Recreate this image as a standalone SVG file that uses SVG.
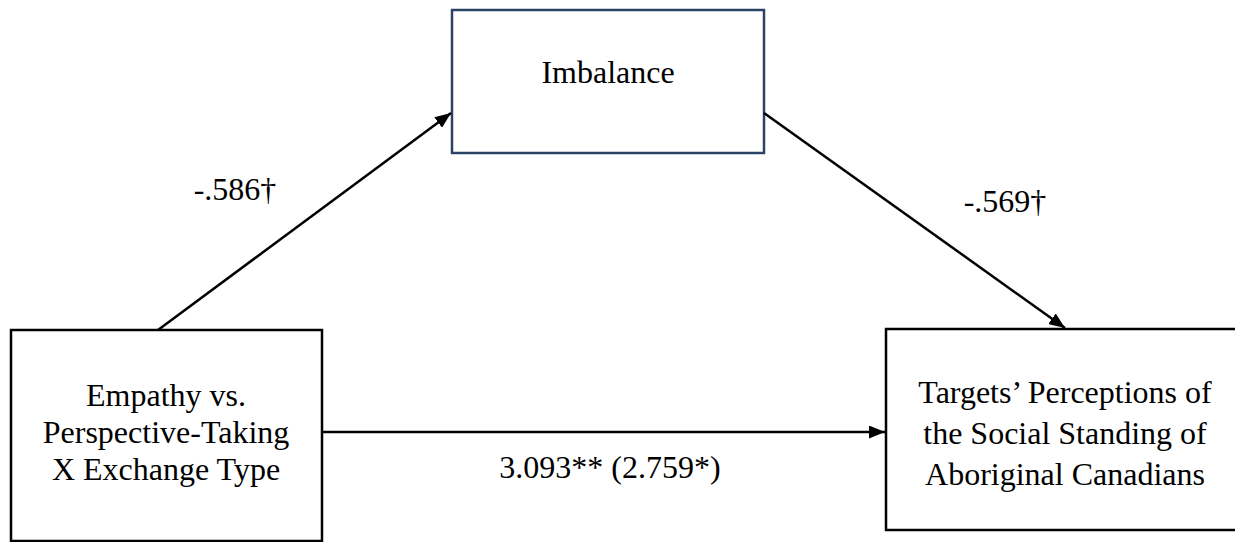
<svg xmlns="http://www.w3.org/2000/svg" width="1235" height="542" viewBox="0 0 1235 542">
<defs>
<style>
.box{fill:#ffffff;stroke:#000000;stroke-width:2.5}
.blue{stroke:#2B4466}
.t{font-family:"Liberation Serif","Times New Roman",serif;font-size:32px;fill:#000000;text-anchor:middle}
.edge{stroke:#000000;stroke-width:2.5;fill:none;marker-end:url(#arr)}
</style>
<marker id="arr" viewBox="0 0 16 13" refX="16" refY="6.5" markerWidth="16" markerHeight="13" markerUnits="userSpaceOnUse" orient="auto">
<path d="M0,0 L16,6.5 L0,13 Z" fill="#000000"/>
</marker>
</defs>
<rect width="1235" height="542" fill="#ffffff"/>
<g id="node-imbalance">
<rect class="box blue" x="452" y="10" width="312" height="143"/>
<text class="t" x="608" y="83">Imbalance</text>
</g>
<g id="node-empathy">
<rect class="box" x="11" y="330" width="311" height="211"/>
<text class="t" x="166" y="406">Empathy vs.</text>
<text class="t" x="166" y="443">Perspective-Taking</text>
<text class="t" x="166" y="480">X Exchange Type</text>
</g>
<g id="node-targets">
<rect class="box" x="886" y="329" width="360" height="201"/>
<text class="t" x="1065" y="403">Targets’ Perceptions of</text>
<text class="t" x="1065" y="444">the Social Standing of</text>
<text class="t" x="1065" y="485">Aboriginal Canadians</text>
</g>
<g id="connectors">
<line class="edge" x1="158" y1="330" x2="451" y2="113"/>
<line class="edge" x1="764" y1="113" x2="1065" y2="328"/>
<line class="edge" x1="322" y1="432" x2="885" y2="432"/>
<text class="t" x="235" y="200">-.586†</text>
<text class="t" x="1005" y="212">-.569†</text>
<text class="t" x="610" y="478">3.093** (2.759*)</text>
</g>
</svg>
